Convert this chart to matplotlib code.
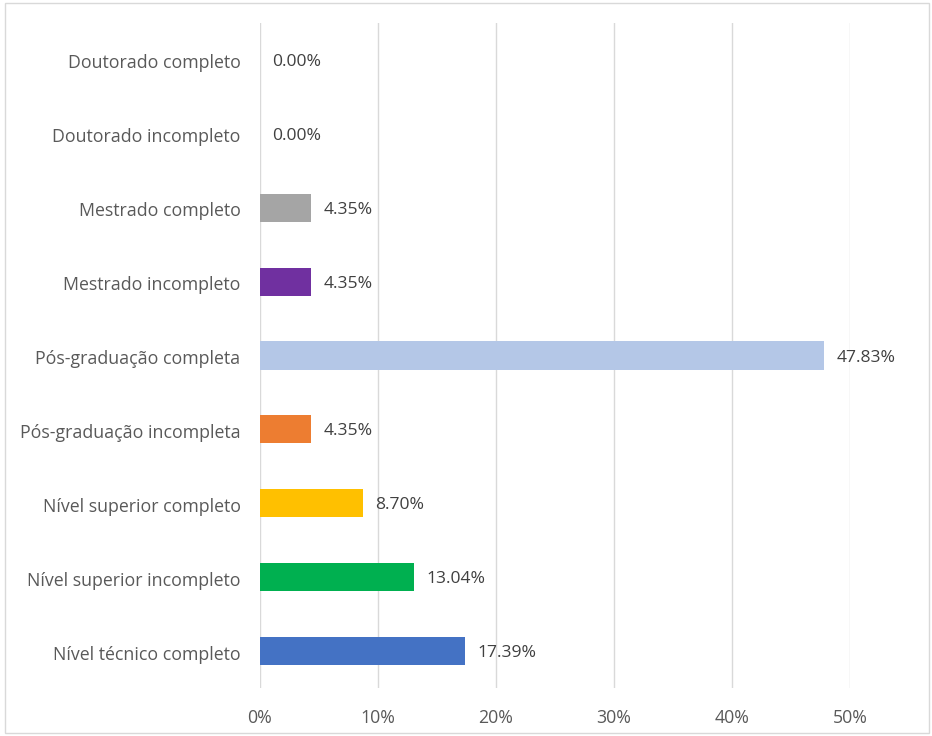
import matplotlib
matplotlib.use("Agg")
import matplotlib.pyplot as plt
import matplotlib.transforms as mtrans
from matplotlib.patches import Rectangle

categories = ["Nível técnico completo", "Nível superior incompleto", "Nível superior completo",
              "Pós-graduação incompleta", "Pós-graduação completa", "Mestrado incompleto",
              "Mestrado completo", "Doutorado incompleto", "Doutorado completo"]
values = [17.39, 13.04, 8.70, 4.35, 47.83, 4.35, 4.35, 0.00, 0.00]
colors = ["#4472C4", "#00B050", "#FFC000", "#ED7D31", "#B4C7E7", "#7030A0", "#A5A5A5",
          "#A5A5A5", "#A5A5A5"]
xticks = [0, 10, 20, 30, 40, 50]

plt.rcParams["font.family"] = ["Open Sans", "DejaVu Sans"]
txt = "#595959"

fig = plt.figure(figsize=(9.32, 7.36), dpi=100)
ax = fig.add_axes([260 / 932, 48 / 736, 590 / 932, 665 / 736])

y = list(range(len(categories)))
ax.barh(y, values, height=0.38, color=colors, zorder=3)
for yi, v in zip(y, values):
    ax.annotate("%.2f%%" % v, (v, yi), xytext=(9, -1.5), textcoords="offset points",
                va="center", ha="left", fontsize=12.6, color="#404040")

ax.set_xlim(0, 50)
ax.set_ylim(-0.5, 8.5)
ax.set_xticks(xticks)
ax.set_xticklabels(["%d%%" % t for t in xticks])
ax.set_yticks(y)
ax.set_yticklabels(categories)
ax.tick_params(axis="both", length=0, labelsize=12.8, labelcolor=txt)
ax.tick_params(axis="y", pad=14)
ax.tick_params(axis="x", pad=15)
# nudge category labels down a little
shift = mtrans.ScaledTranslation(0, -1.5 / 100, fig.dpi_scale_trans)
for lab in ax.get_yticklabels():
    lab.set_transform(lab.get_transform() + shift)
ax.grid(axis="x", color="#D9D9D9", lw=1, zorder=0)
for s in ax.spines.values():
    s.set_visible(False)

fig.patches.append(Rectangle((5 / 932, 3 / 736), 924 / 932, 730 / 736, transform=fig.transFigure,
                             fill=False, edgecolor="#D9D9D9", lw=1))

fig.savefig("out.png", dpi=100)
